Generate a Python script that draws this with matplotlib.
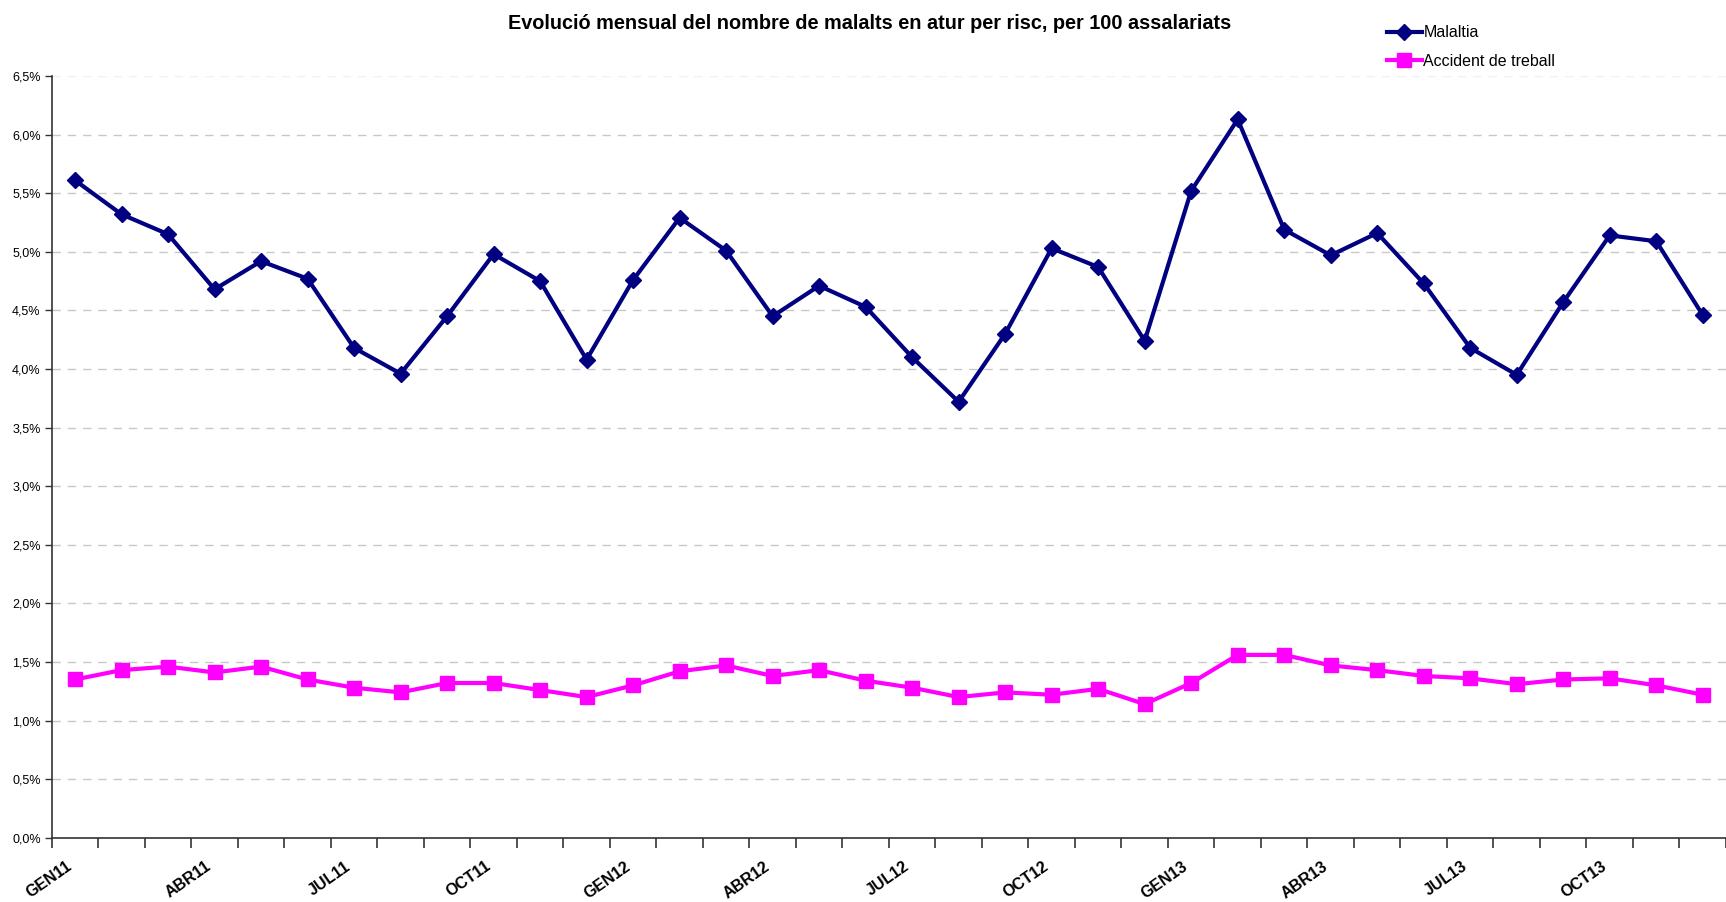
import matplotlib
matplotlib.use("Agg")
import matplotlib.pyplot as plt
from matplotlib.ticker import FixedLocator, FuncFormatter
import matplotlib.transforms as mtransforms

months = ["GEN", "FEB", "MAR", "ABR", "MAI", "JUN", "JUL", "AGO", "SET", "OCT", "NOV", "DES"]
years = ["11", "12", "13"]
categories = [m + y for y in years for m in months]

malaltia = [5.61, 5.32, 5.15, 4.68, 4.92, 4.77, 4.18, 3.96, 4.45, 4.98, 4.75, 4.08,
            4.76, 5.29, 5.01, 4.45, 4.71, 4.53, 4.10, 3.72, 4.30, 5.03, 4.87, 4.24,
            5.52, 6.13, 5.19, 4.97, 5.16, 4.73, 4.18, 3.95, 4.57, 5.14, 5.09, 4.46]
accident = [1.35, 1.43, 1.46, 1.41, 1.46, 1.35, 1.28, 1.24, 1.32, 1.32, 1.26, 1.20,
            1.30, 1.42, 1.47, 1.38, 1.43, 1.34, 1.28, 1.20, 1.24, 1.22, 1.27, 1.14,
            1.32, 1.56, 1.56, 1.47, 1.43, 1.38, 1.36, 1.31, 1.35, 1.36, 1.30, 1.22]
yticks = [0.0, 0.5, 1.0, 1.5, 2.0, 2.5, 3.0, 3.5, 4.0, 4.5, 5.0, 5.5, 6.0, 6.5]

title = "Evolució mensual del nombre de malalts en atur per risc, per 100 assalariats"

FONT = ["Liberation Sans", "DejaVu Sans"]
plt.rcParams["font.family"] = FONT

fig = plt.figure(figsize=(17.26, 9.02), dpi=100)
ax = fig.add_axes([0.030, 0.0713, 0.970, 0.8444])

x = list(range(len(categories)))
ax.plot(x, malaltia, color="#000080", lw=3, marker="D", ms=8, label="Malaltia", zorder=3)
ax.plot(x, accident, color="#FF00FF", lw=3, marker="s", ms=10, label="Accident de treball", zorder=3)

ax.set_xlim(-0.5, len(categories) - 0.5)
ax.set_ylim(0, 6.5)

ax.yaxis.set_major_locator(FixedLocator(yticks))
ax.yaxis.set_major_formatter(FuncFormatter(lambda v, p: f"{v:.1f}%".replace(".", ",")))
ax.tick_params(axis="y", labelsize=9, length=5, width=1, color="#333333", pad=3)
for yv in yticks[1:-1]:
    ax.axhline(yv, color="#c8c8c8", lw=1, ls=(0, (6, 5)), zorder=1)
ax.axhline(yticks[-1], color="#f0f0f0", lw=1, ls=(0, (6, 5)), zorder=1)

# tick marks on category boundaries, labels every 3 months
ax.xaxis.set_major_locator(FixedLocator([i - 0.5 for i in range(len(categories) + 1)]))
ax.xaxis.set_major_formatter(FuncFormatter(lambda v, p: ""))
ax.tick_params(axis="x", which="major", length=7, width=1.2, color="#333333")
lab_pos = list(range(0, len(categories), 3))
ax.xaxis.set_minor_locator(FixedLocator(lab_pos))
ax.set_xticklabels([categories[i] for i in lab_pos], minor=True)
ax.tick_params(axis="x", which="minor", length=0, pad=15, labelsize=11.5)
offset = mtransforms.ScaledTranslation(-9 / 100, 0, fig.dpi_scale_trans)
for lbl in ax.xaxis.get_minorticklabels():
    lbl.set_rotation(35)
    lbl.set_ha("right")
    lbl.set_va("top")
    lbl.set_rotation_mode("anchor")
    lbl.set_fontweight("bold")
    lbl.set_transform(lbl.get_transform() + offset)

for s in ["top", "right"]:
    ax.spines[s].set_visible(False)
for s in ["left", "bottom"]:
    ax.spines[s].set_color("#333333")
    ax.spines[s].set_linewidth(1.2)

fig.text(0.504, 0.974, title, ha="center", va="center", fontsize=14.3, fontweight="bold")

leg = fig.legend(loc="upper left", bbox_to_anchor=(0.795, 0.988), frameon=False,
                 fontsize=11.5, handlelength=2.2, handletextpad=0.1, labelspacing=0.85)

fig.savefig("out.png", dpi=100)
